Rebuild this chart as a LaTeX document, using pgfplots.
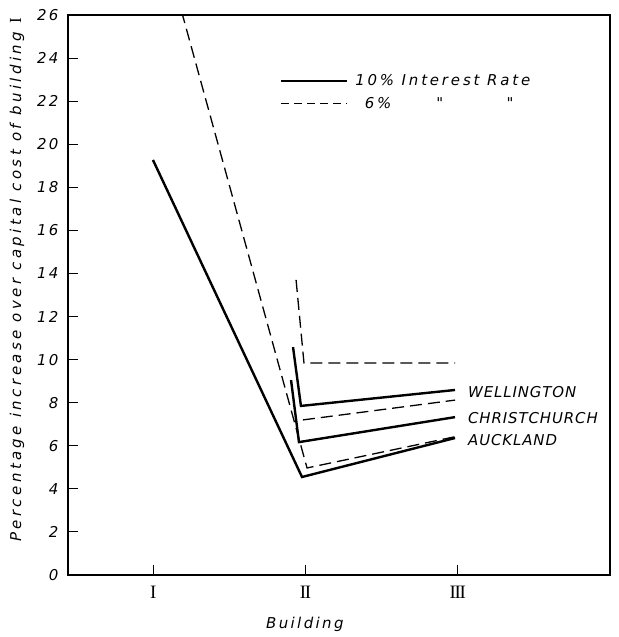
\documentclass[border=0pt]{standalone}
\usepackage{fontspec}
\setmainfont{DejaVu Sans}
\newfontfamily\legfont[LetterSpace=19]{DejaVu Sans}
\newfontfamily\tickfont[LetterSpace=15]{DejaVu Sans}
\newfontfamily\cityfont[LetterSpace=6]{DejaVu Sans}
\newfontfamily\labfont[LetterSpace=16]{DejaVu Sans}
\newfontfamily\ylabfont[LetterSpace=23]{DejaVu Sans}
\newfontfamily\romfont{Liberation Serif}
\usepackage{pgfplots}
\usetikzlibrary{calc}
\pgfplotsset{compat=1.18}

\begin{document}
\begin{tikzpicture}
\begin{axis}[
  name=ax,
  scale only axis,
  width=542bp, height=560bp,
  xmin=0.44, xmax=4.0,
  ymin=0, ymax=26,
  xtick={1,2,3},
  xticklabels={{\romfont I},{\romfont I\kern-1.2bp I},{\romfont I\kern-1.2bp I\kern-1.2bp I}},
  ytick={0,2,...,26},
  tick align=inside,
  xtick pos=left, ytick pos=left,
  major tick length=10bp,
  axis line style={line width=1.1bp},
  tick style={line width=1.1bp, black},
  /pgf/number format/assume math mode=true,
  yticklabel style={font=\fontsize{15}{18}\selectfont\tickfont\itshape, xshift=-6bp},
  xticklabel style={font=\fontsize{19}{21}\selectfont, yshift=-8bp},
  xlabel={Building},
  ylabel={Percentage increase over capital cost of building {\romfont\upshape\fontsize{17}{18}\selectfont I}},
  xlabel style={font=\fontsize{15}{18}\selectfont\labfont\itshape,
    at={(axis description cs:0.437,-0.089)}, anchor=center},
  ylabel style={font=\fontsize{15}{18}\selectfont\ylabfont\itshape,
    at={(axis description cs:-0.094,0.527)}, anchor=center},
  legend style={draw=none, fill=none, at={(0.385,0.901)}, anchor=north west,
    font=\fontsize{15}{18}\selectfont\legfont\itshape, row sep=6bp,
    column sep=5bp, cells={anchor=west}},
  legend image code/.code={\draw[#1] (0bp,0bp) -- (66bp,0bp);},
  solid10/.style={black, line width=2.4bp},
  dash6/.style={black, line width=1.3bp, dash pattern=on 12bp off 6bp},
]
\addlegendimage{black, line width=2.4bp}
\addlegendentry{10\% Interest Rate}
\addlegendimage{black, line width=1.3bp, dash pattern=on 8bp off 5bp}
\addlegendentry{\phantom{1}6\%\ \makebox[0pt][l]{\hphantom{Inte}"}\hphantom{Interest}\ \makebox[0pt][l]{\hphantom{Ra}"}\hphantom{Rate}}

% 10% interest rate
\addplot[solid10, forget plot] coordinates {(1.918,10.58) (1.970,7.85) (2.982,8.59)};
\addplot[solid10, forget plot] coordinates {(1.905,9.05) (1.957,6.17) (2.982,7.33)};
\addplot[solid10, forget plot] coordinates {(0.998,19.27) (1.977,4.55) (2.982,6.36)};
% 6% interest rate
\addplot[dash6, forget plot] coordinates {(1.938,13.7) (1.990,9.84) (2.982,9.84)};
\addplot[dash6, forget plot] coordinates {(1.983,7.20) (2.982,8.12)};
\addplot[dash6, forget plot] coordinates {(0.998,31.0) (2.010,4.97) (2.982,6.42)};

\node[anchor=west, font=\fontsize{15}{18}\selectfont\cityfont\itshape, inner sep=0pt]
  at (axis cs:3.067,8.5) {WELLINGTON};
\node[anchor=west, font=\fontsize{15}{18}\selectfont\cityfont\itshape, inner sep=0pt]
  at (axis cs:3.067,7.29) {CHRISTCHURCH};
\node[anchor=west, font=\fontsize{15}{18}\selectfont\cityfont\itshape, inner sep=0pt]
  at (axis cs:3.067,6.27) {AUCKLAND};
\end{axis}
\pgfresetboundingbox
\path[use as bounding box] ($(ax.south west)+(-68bp,-62bp)$) rectangle ($(ax.north east)+(9bp,15bp)$);
\end{tikzpicture}
\end{document}
